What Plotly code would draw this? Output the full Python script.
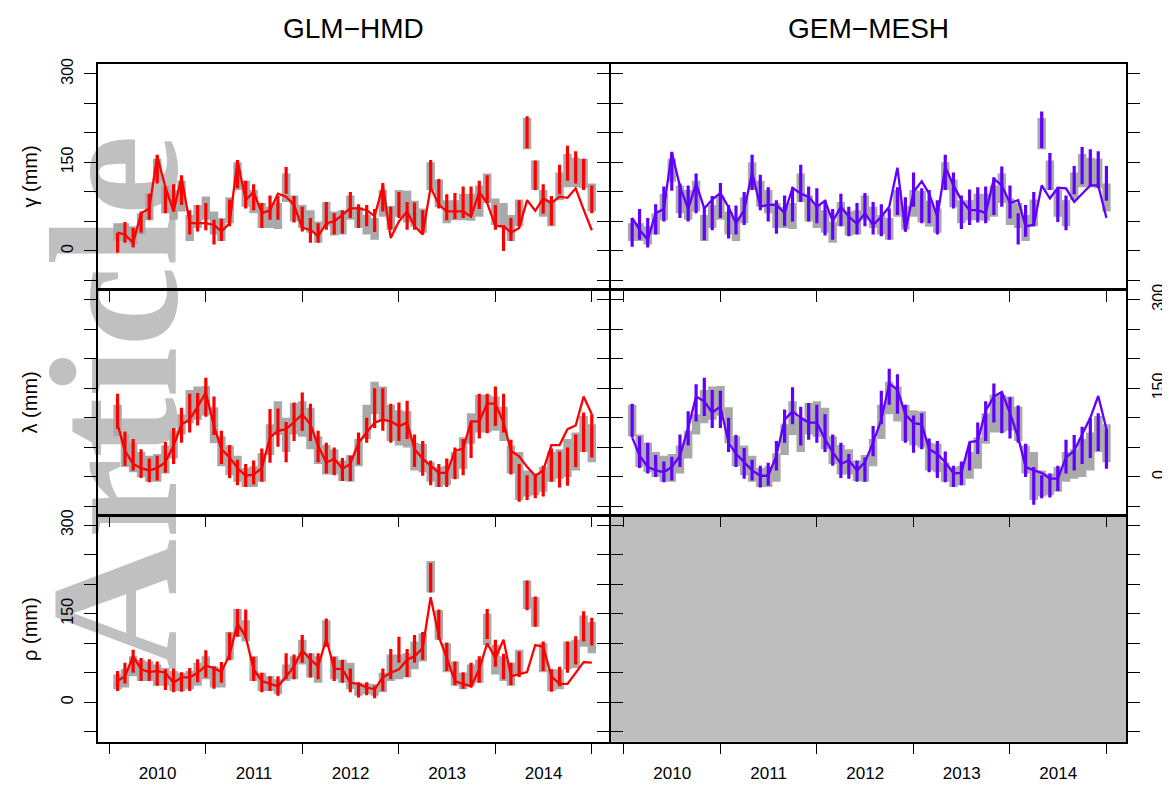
import plotly.graph_objects as go
import pandas as pd

# ---------------- data ----------------
months = pd.date_range("2010-02-01", periods=60, freq="MS")

# gamma: observation range (grey), shared by both models
gam_obs_lo = [17,17,11,28,52,117,64,53,67,17,39,53,28,17,47,103,75,64,39,39,37,83,50,39,31,14,42,26,28,53,
              39,28,19,58,36,58,48,41,31,103,74,47,52,52,51,58,81,44,39,17,42,172,103,58,42,86,108,108,106,67]
gam_obs_hi = [47,47,42,64,97,156,111,103,119,61,78,92,67,56,91,150,119,103,81,75,81,131,94,78,69,50,83,67,69,94,
              75,61,56,103,76,103,102,85,72,150,121,86,86,97,97,111,131,89,81,61,87,225,153,103,86,133,164,158,156,114]
# gamma GLM-HMD
gam_glm_lo = [-3,14,6,31,53,114,64,67,78,28,33,35,11,17,42,106,72,69,39,53,53,97,48,33,14,14,36,28,29,56,
              39,42,32,67,36,56,36,36,28,103,72,52,54,56,61,71,81,36,0,17,41,174,103,63,43,96,119,114,103,64]
gam_glm_hi = [31,49,39,67,97,163,109,113,128,69,78,81,53,54,87,154,119,113,81,94,93,142,93,75,56,47,83,64,69,100,
              79,78,71,115,75,100,83,82,69,154,122,96,98,109,109,119,128,78,44,56,86,228,153,113,93,146,178,169,156,111]
gam_glm_mod = [31,28,14,64,72,161,108,67,125,47,47,47,44,33,47,153,86,100,64,69,97,92,78,39,36,25,47,50,61,72,
               72,69,59,110,22,50,67,42,28,108,78,67,67,67,58,100,81,42,42,31,39,86,68,89,81,92,90,106,70,35]
# gamma GEM-MESH
gam_gem_lo = [7,19,6,28,50,102,56,50,64,18,35,56,21,28,44,103,69,50,29,42,50,83,50,47,26,19,42,25,28,42,
              28,25,19,61,33,75,47,47,28,103,72,37,44,48,47,61,75,55,11,24,42,174,103,49,35,96,113,109,107,85]
gam_gem_hi = [56,71,56,79,109,168,114,111,131,74,93,115,78,77,100,163,129,108,86,94,108,146,109,106,86,71,97,75,81,98,
              83,79,72,108,91,133,106,103,86,163,133,94,104,108,109,125,143,111,64,78,100,236,166,108,94,144,176,172,169,144]
gam_gem_mod = [56,36,19,64,71,167,109,71,114,72,87,98,74,47,69,133,75,78,78,64,107,97,92,75,85,50,75,58,46,64,
               44,58,75,141,33,100,118,97,58,142,111,86,69,69,64,122,111,81,86,42,44,111,89,107,106,83,97,111,111,56]

# lambda: observation range (grey)
lam_obs_lo = [69,17,8,0,-8,-8,6,31,72,91,97,104,57,18,3,-8,-17,-17,-8,37,71,42,72,68,47,22,4,4,-7,-8,
              18,64,106,94,61,53,50,11,8,-8,-17,-14,-3,14,56,75,75,78,61,6,-39,-33,-31,-25,-8,-3,0,11,42,25]
lam_obs_hi = [122,72,58,42,36,39,53,78,106,147,153,154,118,69,53,36,15,18,40,89,128,100,125,128,117,69,54,47,28,37,
              64,122,161,153,122,113,111,58,56,25,17,19,42,67,108,139,139,136,119,53,42,11,6,17,42,47,64,75,103,89]
# lambda GLM-HMD
lam_glm_lo = [81,19,11,-2,-9,-6,7,22,58,75,87,102,71,22,-2,-14,-17,-13,-8,24,51,25,61,78,61,25,6,3,-7,-7,
              21,58,83,78,58,61,64,17,2,-14,-17,-17,-4,3,32,65,74,86,75,4,-42,-39,-36,-33,-8,-18,-15,17,42,33]
lam_glm_hi = [141,77,64,47,31,36,59,83,117,141,142,168,136,78,54,29,22,28,48,115,116,93,126,143,124,78,58,50,32,36,
              75,100,150,150,124,126,129,72,61,28,22,31,50,64,94,141,141,153,141,63,22,3,2,19,48,43,50,72,109,106]
lam_glm_mod = [89,44,22,15,11,15,25,53,89,97,119,143,86,47,33,15,2,4,15,67,78,81,93,106,89,53,24,31,14,22,
               58,75,92,97,94,86,92,47,31,19,7,7,44,48,94,94,124,124,92,44,35,17,2,11,54,54,81,87,136,106]
# lambda GEM-MESH
lam_gem_lo = [67,15,6,0,-9,-6,17,53,94,103,83,83,42,17,-3,-6,-18,-15,11,58,89,53,63,58,42,19,-2,-3,-8,-8,
              35,89,122,107,58,41,47,8,-2,-9,-17,-14,11,39,61,92,74,65,58,0,-47,-36,-35,-24,6,11,22,32,44,14]
lam_gem_hi = [124,69,58,37,26,34,72,111,157,168,147,146,100,71,49,29,19,24,61,114,152,119,125,122,106,72,58,39,28,33,
              86,146,183,174,122,104,108,65,61,43,19,26,58,92,128,158,141,135,121,56,17,3,6,19,63,71,85,100,108,81]
lam_gem_mod = [67,36,17,11,8,17,36,83,136,128,109,119,58,39,25,11,2,2,36,97,111,100,92,92,64,42,22,28,11,25,
               58,97,158,148,106,91,89,47,39,25,6,7,59,61,112,136,144,108,67,17,11,7,-3,-3,33,44,72,100,137,81]

# rho: observation range (grey)
rho_obs_lo = [22,25,44,36,36,28,28,19,19,22,28,39,25,25,72,111,103,36,19,19,14,36,39,64,42,33,94,39,33,22,
              11,14,11,17,36,39,42,56,69,186,106,51,28,22,28,33,97,47,36,28,47,158,128,51,19,22,56,58,94,83]
rho_obs_hi = [47,56,78,72,69,64,58,53,50,53,67,78,61,58,119,158,139,78,50,44,39,64,78,106,83,78,139,78,72,67,
              33,32,31,50,81,81,83,103,117,239,156,100,69,50,64,72,150,97,78,67,89,206,178,100,56,56,103,106,147,136]
# rho GLM-HMD
rho_glm_lo = [19,32,50,36,36,28,21,17,18,19,34,42,23,33,71,111,108,36,17,19,11,39,39,67,42,39,94,36,33,17,
              8,12,7,19,39,67,43,67,72,186,106,53,29,23,25,33,107,60,39,29,43,156,128,53,18,27,50,64,103,96]
rho_glm_hi = [53,67,89,75,73,69,56,57,51,58,73,88,61,68,118,158,157,77,50,44,44,83,81,114,83,83,142,77,72,57,
              34,34,28,57,90,111,90,114,119,236,157,101,69,51,67,78,158,106,82,67,86,206,179,103,56,60,103,112,154,143]
rho_glm_mod = [36,44,78,56,51,53,50,33,42,42,50,62,58,51,81,133,111,56,36,31,27,43,61,88,72,61,107,57,56,33,
               31,25,22,42,50,56,72,78,92,178,111,75,36,31,27,56,100,75,106,44,47,51,97,94,44,31,31,50,68,67]

col_titles = ["GLM\u2212HMD", "GEM\u2212MESH"]
row_titles = ["\u03b3 (mm)", "\u03bb (mm)", "\u03c1 (mm)"]
y_tickvals = [-50, 0, 50, 100, 150, 200, 250, 300]
y_ticktext = ["", "0", "", "", "150", "", "", "300"]
watermark_text = "<b>Article</b>"

# ---------------- style / geometry ----------------
PAGE_W, PAGE_H = 1170, 789
OFF = 8                      # default body margin of the page
WF, HF = PAGE_W - OFF, PAGE_H - OFF
RED = "#ff0000"
PURPLE = "#6100ff"
GREY_BAR = "#a9a9a9"
GREY_PANEL = "#bebebe"
WM_GREY = "#c0c0c0"
FONT = "Liberation Sans, Arial, Helvetica, sans-serif"
LW = 1.5

colx = [(97, 610), (610, 1127)]
rowy = [(57, 285), (285, 513), (513, 742)]
yranges = [[-64, 316], [-64, 316], [-66.7, 315]]
xranges = [["2009-11-18", "2015-03-08"], ["2009-11-12", "2015-03-17"]]

# watermark placement (page pixels): text centre and font size
WM_CX, WM_CY, WM_SIZE = 114, 399, 182


def px_x(p):
    return (p - OFF) / WF


def px_y(p):
    return 1 - (p - OFF) / HF


fig = go.Figure()

# watermark subplot (full page, drawn first -> beneath the panels)
fig.add_trace(go.Bar(
    x=[WM_CX], y=[10], base=[PAGE_H - WM_CY - 5], width=[10],
    marker=dict(color="rgba(0,0,0,0)", line=dict(width=0)),
    text=[watermark_text], textposition="inside", insidetextanchor="middle",
    textangle=-90, constraintext="none", cliponaxis=False,
    insidetextfont=dict(family="Liberation Serif, Times New Roman, serif", size=WM_SIZE, color=WM_GREY),
    hoverinfo="skip", showlegend=False, xaxis="x", yaxis="y"))
layout_axes = {
    "xaxis": dict(domain=[0, 1], range=[OFF, PAGE_W], visible=False, fixedrange=True),
    "yaxis": dict(domain=[0, 1], range=[0, PAGE_H - OFF], visible=False, fixedrange=True),
}

panels = [
    (0, 0, gam_obs_lo, gam_obs_hi, gam_glm_lo, gam_glm_hi, gam_glm_mod, RED),
    (0, 1, gam_obs_lo, gam_obs_hi, gam_gem_lo, gam_gem_hi, gam_gem_mod, PURPLE),
    (1, 0, lam_obs_lo, lam_obs_hi, lam_glm_lo, lam_glm_hi, lam_glm_mod, RED),
    (1, 1, lam_obs_lo, lam_obs_hi, lam_gem_lo, lam_gem_hi, lam_gem_mod, PURPLE),
    (2, 0, rho_obs_lo, rho_obs_hi, rho_glm_lo, rho_glm_hi, rho_glm_mod, RED),
    (2, 1, None, None, None, None, None, None),
]

bar_w = 32 * 86400000
shapes = []
h = LW / 2
for i, (r, c, olo, ohi, mlo, mhi, mline, color) in enumerate(panels):
    n = i + 2
    xa, ya = f"x{n}", f"y{n}"
    if olo is not None:
        fig.add_trace(go.Bar(
            x=months, y=[b - a for a, b in zip(olo, ohi)], base=olo, width=[bar_w] * len(months),
            marker=dict(color=GREY_BAR, line=dict(width=0)), hoverinfo="skip",
            showlegend=False, xaxis=xa, yaxis=ya))
        sx, sy = [], []
        for d, a, b in zip(months, mlo, mhi):
            sx += [d, d, None]
            sy += [a, b, None]
        fig.add_trace(go.Scatter(x=sx, y=sy, mode="lines", line=dict(color=color, width=3.2),
                                 hoverinfo="skip", showlegend=False, xaxis=xa, yaxis=ya))
        fig.add_trace(go.Scatter(x=months, y=mline, mode="lines", line=dict(color=color, width=2.3),
                                 hoverinfo="skip", showlegend=False, xaxis=xa, yaxis=ya))
    else:
        fig.add_trace(go.Scatter(x=[months[0]], y=[None], mode="lines", hoverinfo="skip",
                                 showlegend=False, xaxis=xa, yaxis=ya))
        shapes.append(dict(type="rect", xref=f"x{n} domain", yref=f"y{n} domain",
                           x0=0, x1=1, y0=0, y1=1, fillcolor=GREY_PANEL,
                           line=dict(width=0), layer="below"))

    x0, x1 = colx[c]
    y0, y1 = rowy[r]
    # shrink domains by half a line width so that frame lines of adjacent panels coincide
    dx = [px_x(x0 + h), px_x(x1 - h)]
    dy = [px_y(y1 - h), px_y(y0 + h)]
    layout_axes[f"xaxis{n}"] = dict(
        domain=dx, anchor=ya, type="date", range=xranges[c],
        tickmode="linear", tick0="2010-01-01", dtick="M12", ticklabelmode="period",
        tickformat="%Y", ticks="outside", ticklen=11, tickwidth=1.3, tickcolor="black",
        showticklabels=(r == 2), ticklabelstandoff=4,
        tickfont=dict(family=FONT, size=17, color="black"),
        showline=True, linecolor="black", linewidth=LW, mirror=True,
        showgrid=False, zeroline=False, fixedrange=True)
    show_lab = (c == 0 and r in (0, 2)) or (c == 1 and r == 1)
    layout_axes[f"yaxis{n}"] = dict(
        domain=dy, anchor=xa, range=yranges[r], side="left" if c == 0 else "right",
        tickmode="array", tickvals=y_tickvals, ticktext=y_ticktext, tickangle=-90,
        ticks="outside", ticklen=12, tickwidth=1.3, tickcolor="black",
        showticklabels=show_lab, ticklabelstandoff=5,
        tickfont=dict(family=FONT, size=16, color="black"),
        showline=True, linecolor="black", linewidth=LW, mirror="ticks",
        showgrid=False, zeroline=False, fixedrange=True)

annotations = []
for c, t in enumerate(col_titles):
    x0, x1 = colx[c]
    annotations.append(dict(text=t, x=px_x((x0 + x1) / 2), y=px_y(22), xref="paper", yref="paper",
                            showarrow=False, xanchor="center", yanchor="middle",
                            font=dict(family=FONT, size=28, color="black")))
for r, t in enumerate(row_titles):
    y0, y1 = rowy[r]
    annotations.append(dict(text=t, x=px_x(30), y=px_y((y0 + y1) / 2), xref="paper", yref="paper",
                            showarrow=False, xanchor="center", yanchor="middle", textangle=-90,
                            font=dict(family=FONT, size=20, color="black")))

fig.update_layout(
    width=WF, height=HF, margin=dict(l=0, r=0, t=0, b=0),
    paper_bgcolor="white", plot_bgcolor="rgba(0,0,0,0)",
    barmode="overlay", showlegend=False,
    annotations=annotations, shapes=shapes, **layout_axes)

fig.write_html("out.html")
